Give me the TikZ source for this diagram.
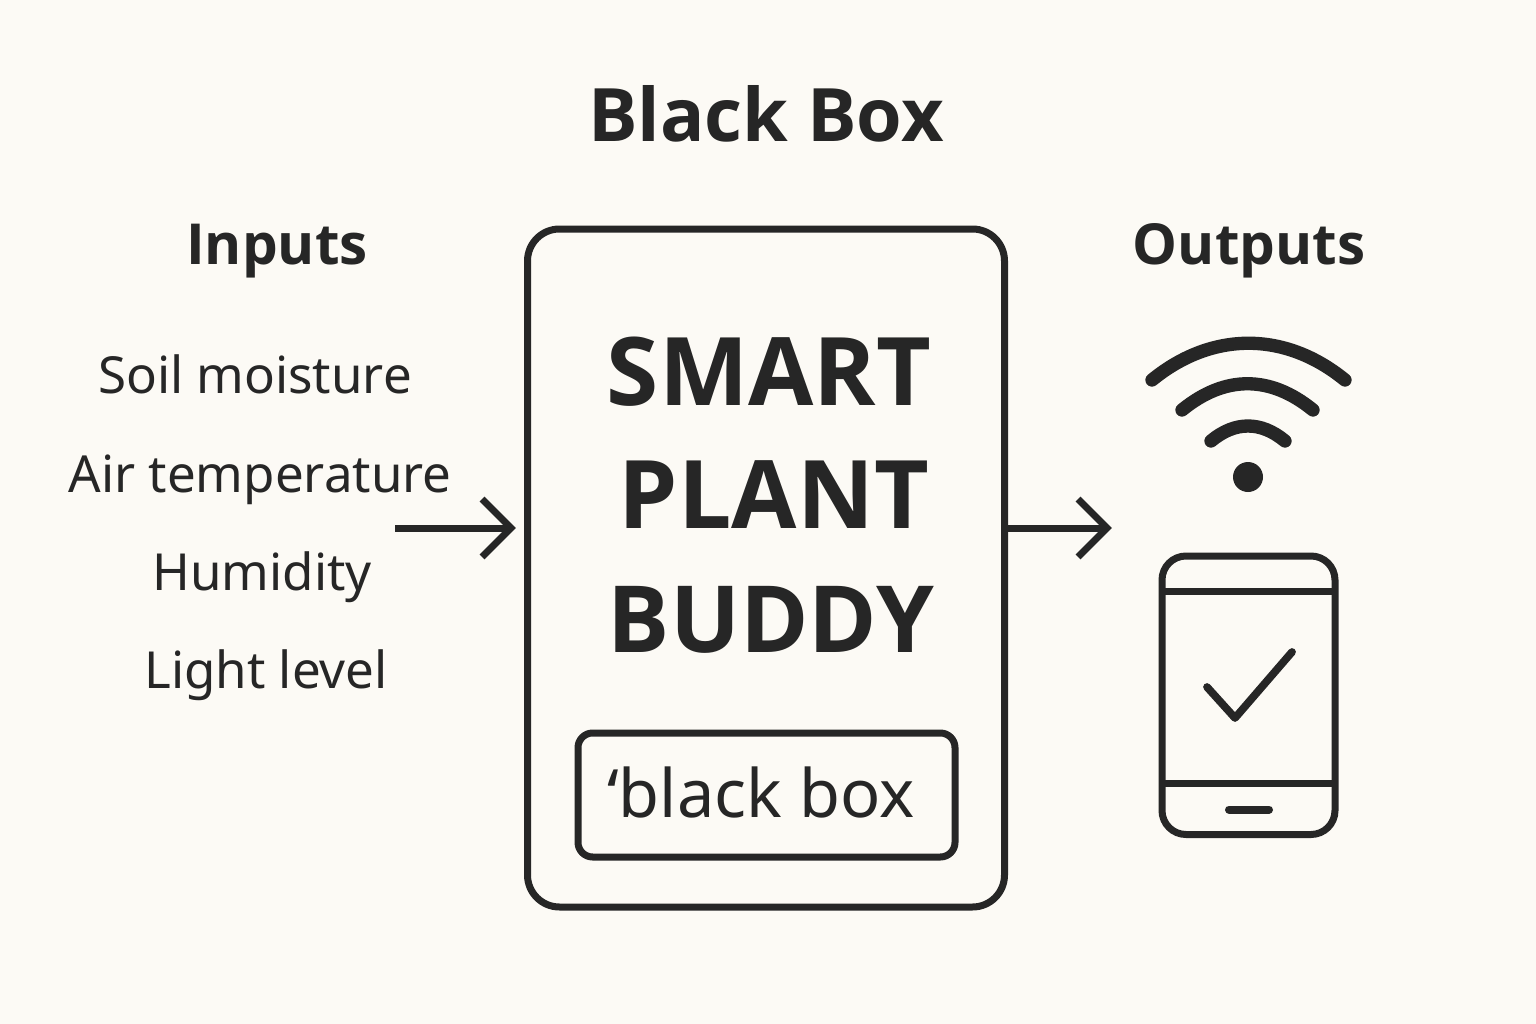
\documentclass[tikz,border=0pt]{standalone}
\usepackage{fontspec}
\usetikzlibrary{calc}
\setmainfont{Noto Sans}
\newfontfamily\heavy{Open Sans}
\definecolor{ink}{HTML}{262626}
\definecolor{paper}{HTML}{FCFAF5}
\tikzset{
  x=0.75pt,y=-0.75pt,
  line/.style={draw=ink,line width=5.25pt,miter limit=10},
  wave/.style={draw=ink,line width=10pt,line cap=round},
  boxline/.style={draw=ink,line width=5.25pt},
  lbl/.style={text=ink,inner sep=0pt,anchor=base},
  sub/.style={lbl,font=\heavy\bfseries\fontsize{42.4}{48}\selectfont},
  inp/.style={lbl,font=\fontsize{38.3}{42}\selectfont},
  big/.style={lbl,font=\heavy\bfseries\fontsize{71}{80}\selectfont},
}
\begin{document}
\begin{tikzpicture}
\path[use as bounding box,fill=paper] (0,0) rectangle (1536,1024);
\node[lbl,font=\heavy\bfseries\fontsize{55.3}{60}\selectfont] (title) at (766,142) {Black Box};
\node[sub] (inputs) at (277,264) {Inputs};
\node[sub] (outputs) at (1249,264) {Outputs};
\node[inp] (i1) at (255,393) {Soil moisture};
\node[inp] (i2) at (260,492) {Air temperature};
\node[inp] (i3) at (262,590) {Humidity};
\node[inp] (i4) at (266,688) {Light level};
\draw[boxline,rounded corners=24pt] (527.5,229) rectangle (1004.5,907);
\coordinate (bbw) at (527.5,528);
\coordinate (bbe) at (1004.5,528);
\node[big] (s) at (769,405) {SMART};
\node[big] (p) at (774,528) {PLANT};
\node[big,font=\heavy\bfseries\fontsize{69.5}{80}\selectfont] (b) at (771,652) {BUDDY};
\draw[boxline,rounded corners=11pt] (578,733) rectangle (955,857);
\node[lbl,font=\fontsize{50}{56}\selectfont] (lt) at (761,817) {‘black box};
\coordinate (a1) at (395,528);
\coordinate (a1e) at (511,528);
\coordinate (a2e) at (1107,528);
\draw[line] (a1) -- (a1e);
\draw[line] ($(a1e)+(-29,-29)$) -- (a1e) -- ($(a1e)+(-29,29)$);
\draw[line] (bbe) -- (a2e);
\draw[line] ($(a2e)+(-29,-29)$) -- (a2e) -- ($(a2e)+(-29,29)$);
% wifi
\draw[wave] (1152,380) .. controls (1212,331) and (1285,331) .. (1345,380);
\draw[wave] (1182,410) .. controls (1225,375) and (1270,375) .. (1313,410);
\draw[wave] (1211,441) .. controls (1235,421) and (1261,421) .. (1285,441);
\fill[ink] (1248,477) circle (15);
% phone
\draw[boxline,rounded corners=18pt] (1162,556) rectangle (1335,834.5);
\draw[boxline] (1162,591) -- (1335,591);
\draw[boxline] (1162,783) -- (1335,783);
\draw[boxline,line cap=round,line width=6pt] (1229,809.5) -- (1269,809.5);
\draw[boxline,line cap=round,line join=round,line width=5.8pt] (1207,687) -- (1235,718) -- (1292,652);
\end{tikzpicture}
\end{document}
